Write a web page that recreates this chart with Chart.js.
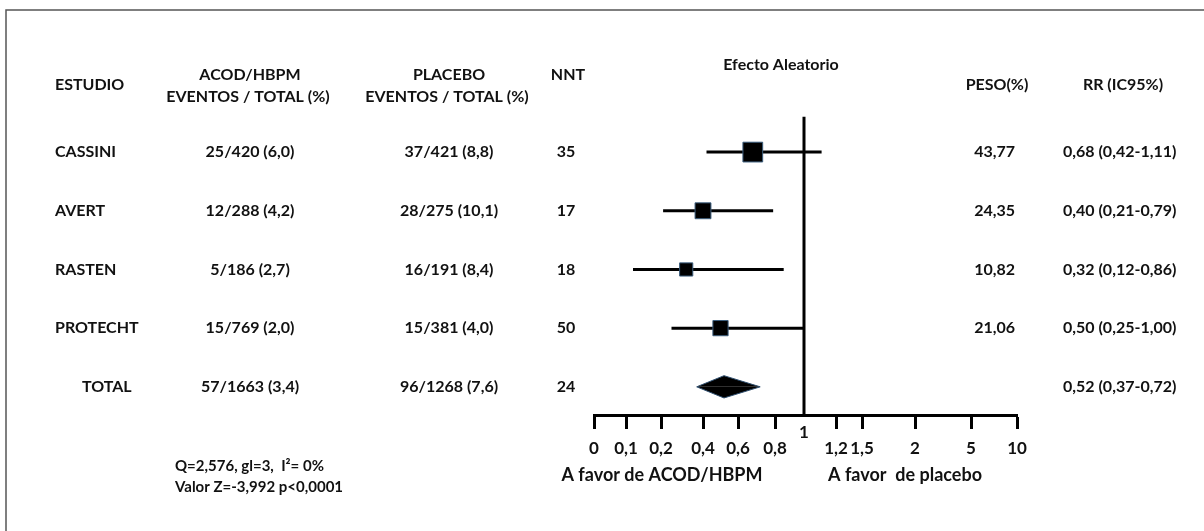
<!DOCTYPE html>
<html>
<head>
<meta charset="utf-8">
<script src="https://cdn.jsdelivr.net/npm/chart.js@4"></script>
<style>
  html, body { margin: 0; padding: 0; background: #fff; }
  #wrap { position: relative; width: 1204px; height: 531px; }
</style>
</head>
<body>
<div id="wrap"><canvas id="forest"></canvas></div>
<script>
/* ===== datos (el ultimo renglon es el TOTAL) ===== */
const ESTUDIOS = ["CASSINI", "AVERT", "RASTEN", "PROTECHT", "TOTAL"];
const ACOD     = ["25/420 (6,0)", "12/288 (4,2)", "5/186 (2,7)", "15/769 (2,0)", "57/1663 (3,4)"];
const PLACEBO  = ["37/421 (8,8)", "28/275 (10,1)", "16/191 (8,4)", "15/381 (4,0)", "96/1268 (7,6)"];
const NNT      = [35, 17, 18, 50, 24];
const PESO     = [43.77, 24.35, 10.82, 21.06, null];
const RR       = [0.68, 0.40, 0.32, 0.50, 0.52];
const RR_LO    = [0.42, 0.21, 0.12, 0.25, 0.37];
const RR_HI    = [1.11, 0.79, 0.86, 1.00, 0.72];

// eje dibujado a mano: valores, etiquetas y separacion de cada marca
const TICK_VALUES = [0, 0.1, 0.2, 0.4, 0.6, 0.8, 1, 1.2, 1.5, 2, 5, 10];
const TICK_LABELS = ["0", "0,1", "0,2", "0,4", "0,6", "0,8", "1", "1,2", "1,5", "2", "5", "10"];
const TICK_STOPS  = [0, 32, 67, 109, 144, 181, 210, 242, 268, 321, 377, 423];

const FONT = 'Lato, "Open Sans", sans-serif';
const TOTAL = ESTUDIOS.length - 1;

// valor RR -> unidades del eje (interpolacion entre marcas)
function slot(v) {
    for (let i = 1; i < TICK_VALUES.length; i++) {
        if (v <= TICK_VALUES[i]) {
            const t = (v - TICK_VALUES[i - 1]) / (TICK_VALUES[i] - TICK_VALUES[i - 1]);
            return TICK_STOPS[i - 1] + t * (TICK_STOPS[i] - TICK_STOPS[i - 1]);
        }
    }
    return TICK_STOPS[TICK_STOPS.length - 1];
}
const coma = v => v.toFixed(2).replace(".", ",");

function txt(ctx, s, x, y, align, size) {
    ctx.font = "bold " + (size || 16) + "px " + FONT;
    ctx.textAlign = align || "center";
    ctx.textBaseline = "middle";
    ctx.fillText(s, x, y);
}

/* ===== tabla y textos ===== */
const tablaPlugin = {
    id: "tabla",
    beforeDraw(chart) {
        const ctx = chart.ctx;
        ctx.save();
        ctx.fillStyle = "#fff";
        ctx.fillRect(0, 0, chart.width, chart.height);
        ctx.strokeStyle = "#555";
        ctx.lineWidth = 1.5;
        ctx.beginPath();
        ctx.moveTo(6, chart.height);
        ctx.lineTo(6, 10);
        ctx.lineTo(chart.width, 10);
        ctx.stroke();
        ctx.restore();
    },
    afterDraw(chart) {
        const ctx = chart.ctx;
        const y = chart.scales.y, x = chart.scales.x;
        ctx.save();
        ctx.fillStyle = "#111";

        txt(ctx, "ESTUDIO", 55, 85, "left");
        txt(ctx, "ACOD/HBPM", 250, 75);
        txt(ctx, "EVENTOS / TOTAL (%)", 248, 97);
        txt(ctx, "PLACEBO", 449, 75);
        txt(ctx, "EVENTOS / TOTAL (%)", 447, 97);
        txt(ctx, "NNT", 568, 75);
        txt(ctx, "Efecto Aleatorio", 781, 65, "center", 16);
        txt(ctx, "PESO(%)", 997, 85);
        txt(ctx, "RR (IC95%)", 1123, 85);

        ESTUDIOS.forEach((s, i) => {
            const py = y.getPixelForValue(i);
            txt(ctx, s, i === TOTAL ? 82 : 55, py, "left");
            txt(ctx, ACOD[i], 250, py);
            txt(ctx, PLACEBO[i], 449, py);
            txt(ctx, String(NNT[i]), 566, py);
            if (PESO[i] !== null) txt(ctx, coma(PESO[i]), 1015, py, "right");
            txt(ctx, coma(RR[i]) + " (" + coma(RR_LO[i]) + "-" + coma(RR_HI[i]) + ")", 1063, py, "left");
        });

        txt(ctx, "1", x.getPixelForValue(slot(1)), 433, "center", 17);
        txt(ctx, "A favor de ACOD/HBPM", 662, 475, "center", 18);
        txt(ctx, "A favor  de placebo", 905, 475, "center", 18);
        txt(ctx, "Q=2,576, gl=3,  I\u00b2= 0%", 175, 466, "left", 15);
        txt(ctx, "Valor Z=-3,992 p<0,0001", 175, 487, "left", 15);
        ctx.restore();
    }
};

/* ===== marcas del forest plot ===== */
const bigotes = ESTUDIOS.slice(0, TOTAL).map((s, i) => ({
    type: "line",
    label: s,
    data: [{ x: slot(RR_LO[i]), y: i }, { x: slot(RR_HI[i]), y: i }],
    borderColor: "#000",
    borderWidth: 3,
    pointRadius: 0,
    order: 3
}));

const cuadros = {
    type: "scatter",
    label: "RR",
    data: RR.slice(0, TOTAL).map((v, i) => ({ x: slot(v), y: i })),
    pointStyle: "rect",
    pointRadius: c => (11 + 0.2 * PESO[c.dataIndex]) / Math.SQRT2,
    pointHoverRadius: c => (11 + 0.2 * PESO[c.dataIndex]) / Math.SQRT2,
    backgroundColor: "#000",
    borderColor: "#3b5d7d",
    borderWidth: 1,
    order: 1
};

// rombo del total: dos triangulos rellenos hasta la fila
const h = 0.19;
const rombo = [-h, h].map(d => ({
    type: "line",
    label: "TOTAL",
    data: [
        { x: slot(RR_LO[TOTAL]), y: TOTAL },
        { x: slot(RR[TOTAL]), y: TOTAL + d },
        { x: slot(RR_HI[TOTAL]), y: TOTAL }
    ],
    fill: { value: TOTAL },
    backgroundColor: "#000",
    borderColor: "#2f4f6f",
    borderWidth: 1,
    pointRadius: 0,
    tension: 0,
    order: 1
}));

const lineaUno = {
    type: "line",
    label: "RR = 1",
    data: [{ x: slot(1), y: -0.6 }, { x: slot(1), y: 4.48 }],
    borderColor: "#000",
    borderWidth: 3,
    pointRadius: 0,
    order: 2
};

new Chart(document.getElementById("forest"), {
    type: "scatter",
    data: { datasets: [...bigotes, lineaUno, cuadros, ...rombo] },
    options: {
        responsive: true,
        maintainAspectRatio: false,
        animation: false,
        layout: { padding: { left: 594, right: 187, top: 111, bottom: 66 } },
        plugins: { legend: { display: false }, tooltip: { enabled: false } },
        scales: {
            x: {
                type: "linear",
                min: 0,
                max: TICK_STOPS[TICK_STOPS.length - 1],
                afterBuildTicks: s => { s.ticks = TICK_STOPS.map(v => ({ value: v })); },
                afterFit: s => { s.height = 50; },
                border: { display: true, color: "#000", width: 3 },
                grid: {
                    drawOnChartArea: false,
                    drawTicks: true,
                    tickLength: 14,
                    tickWidth: 3,
                    tickColor: c => TICK_VALUES[c.index] === 1 ? "rgba(0,0,0,0)" : "#000"
                },
                ticks: {
                    autoSkip: false,
                    maxRotation: 0,
                    padding: 9,
                    color: "#111",
                    font: { family: FONT, size: 17, weight: "bold" },
                    callback: (v, i) => TICK_VALUES[i] === 1 ? "" : TICK_LABELS[i]
                }
            },
            y: { type: "linear", reverse: true, min: -0.7, max: 4.48, display: false }
        }
    },
    plugins: [tablaPlugin]
});
</script>
</body>
</html>
